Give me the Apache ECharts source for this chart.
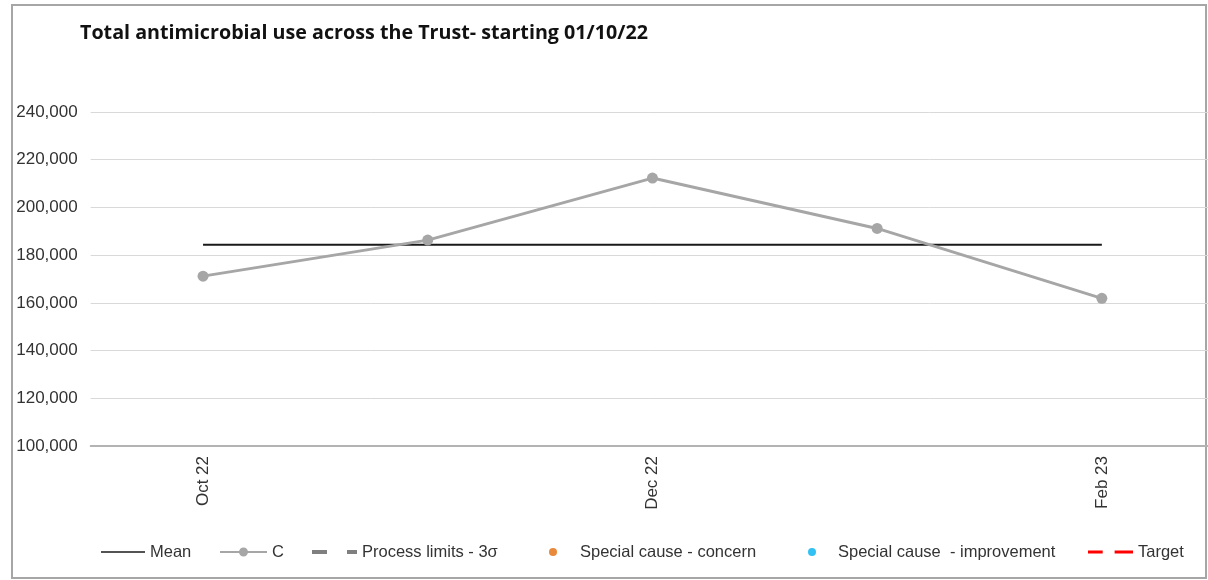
<!DOCTYPE html>
<html><head><meta charset="utf-8">
<script src="https://cdn.jsdelivr.net/npm/echarts@6/dist/echarts.min.js"></script>
<style>html,body{margin:0;padding:0;background:#fff}#c{width:1208px;height:580px}</style>
</head><body><div id="c"></div>
<script>
const categories = ['Oct 22','Nov 22','Dec 22','Jan 23','Feb 23'];
const cValues = [171200, 186300, 212300, 191200, 161900];
const meanValues = [184400, 184400, 184400, 184400, 184400];
const yTicks = {min: 100000, max: 240000, interval: 20000};
const titleText = 'Total antimicrobial use across the Trust- starting 01/10/22';
const legendNames = ['Mean', 'C', 'Process limits - 3\u03c3', 'Special cause - concern', 'Special cause  - improvement', 'Target'];

const chart = echarts.init(document.getElementById('c'), null, {renderer: 'canvas'});
const legendFont = {fontFamily: 'Liberation Sans', fontSize: 16.5, color: '#333', lineHeight: 20};
function lg(name, left, width, height, icon) {
  return {data: [{name: name, icon: icon}], left: left, top: 542, itemGap: 0, itemWidth: width, itemHeight: height,
    textStyle: legendFont, padding: 0, selectedMode: false, symbolKeepAspect: true};
}
chart.setOption({
  animation: false,
  title: {text: titleText, left: 75, top: 18, textStyle: {fontFamily: 'Open Sans', fontWeight: 'bold', fontSize: 19.7, color: '#111'}},
  graphic: [{type: 'rect', shape: {x: 12, y: 5, width: 1194, height: 573}, style: {fill: 'none', stroke: '#a6a6a6', lineWidth: 2}, silent: true}],
  grid: {left: 90.7, top: 112, width: 1123.5, height: 334, outerBoundsMode: 'none', containLabel: false},
  legend: [
    lg(legendNames[0], 101, 44, 2, 'path://M0,0H44V1.6H0Z'),
    lg(legendNames[1], 220, 47, 9, 'path://M0,3.5H47V5.5H0Z M23.5,0A4.5,4.5 0 1 1 23.49,0Z'),
    lg(legendNames[2], 312, 45, 4, 'path://M0,0H15V4H0Z M35,0H45V4H35Z'),
    lg(legendNames[3], 549, 44, 8, 'circle'),
    lg(legendNames[4], 808, 42, 8, 'circle'),
    lg(legendNames[5], 1088, 45, 3, 'path://M0,0H16V3H0Z M29,0H49V3H29Z')
  ],
  xAxis: {
    type: 'category', data: categories, boundaryGap: true,
    axisLine: {lineStyle: {color: '#b3b3b3', width: 2}},
    axisTick: {show: false},
    axisLabel: {interval: 1, rotate: 90, margin: 10, fontFamily: 'Liberation Sans', fontSize: 17, color: '#333'}
  },
  yAxis: {
    type: 'value', min: yTicks.min, max: yTicks.max, interval: yTicks.interval,
    axisLine: {show: false}, axisTick: {show: false},
    splitLine: {lineStyle: {color: '#d9d9d9', width: 1}},
    axisLabel: {margin: 13, fontFamily: 'Liberation Sans', fontSize: 17, color: '#333',
      formatter: v => v.toLocaleString('en-US')}
  },
  series: [
    {name: legendNames[0], type: 'line', data: meanValues, symbol: 'none', lineStyle: {color: '#1a1a1a', width: 2}, itemStyle: {color: '#1a1a1a'}, z: 2},
    {name: legendNames[1], type: 'line', data: cValues, symbol: 'circle', symbolSize: 11, lineStyle: {color: '#a6a6a6', width: 3}, itemStyle: {color: '#a6a6a6'}, z: 3},
    {name: legendNames[2], type: 'line', data: [], symbol: 'none', lineStyle: {color: '#7f7f7f', width: 4, type: [14, 10]}, itemStyle: {color: '#7f7f7f'}},
    {name: legendNames[3], type: 'scatter', data: [], symbol: 'circle', itemStyle: {color: '#e46c0a'}},
    {name: legendNames[4], type: 'scatter', data: [], symbol: 'circle', itemStyle: {color: '#00b0f0'}},
    {name: legendNames[5], type: 'line', data: [], symbol: 'none', lineStyle: {color: '#ff0000', width: 3, type: [14, 8]}, itemStyle: {color: '#ff0000'}}
  ]
});
</script></body></html>
